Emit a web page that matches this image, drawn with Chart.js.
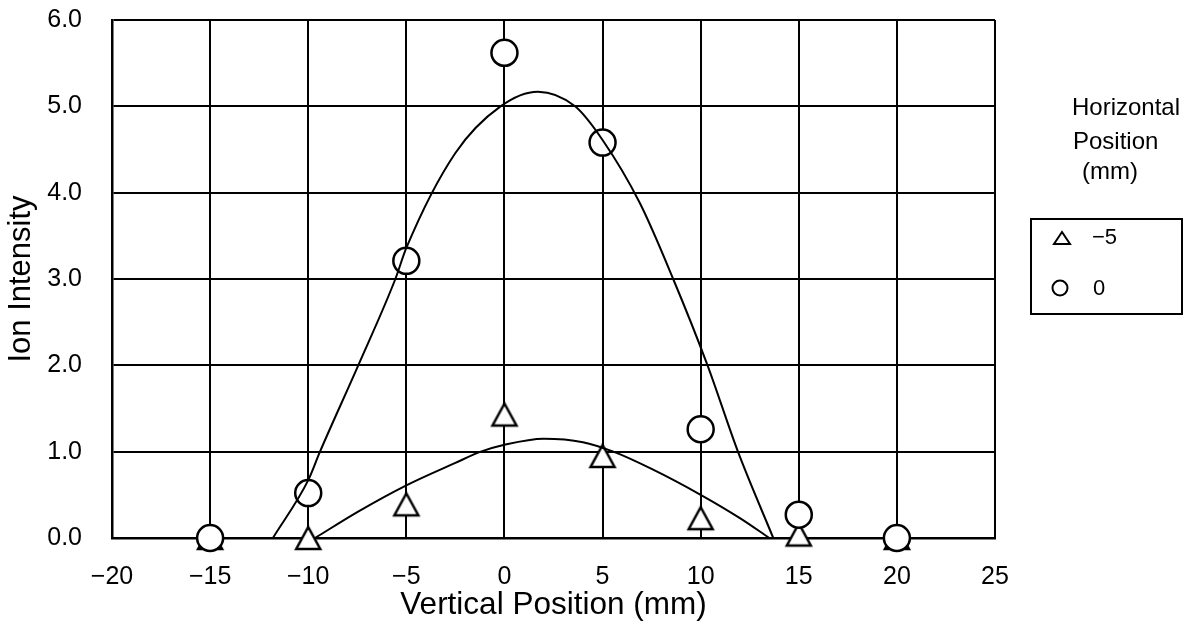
<!DOCTYPE html>
<html>
<head>
<meta charset="utf-8">
<title>Ion Intensity vs Vertical Position</title>
<script src="https://cdn.jsdelivr.net/npm/chart.js@4.4.1/dist/chart.umd.min.js"></script>
<style>
  html, body { margin: 0; padding: 0; background: #fff; }
  #wrap { width: 1200px; height: 634px; }
</style>
</head>
<body>
<div id="wrap"><canvas id="chart" width="1200" height="634"></canvas></div>
<script>
// ── Data ───────────────────────────────────────────────────────────────────

const POSITIONS    = [-15, -10, -5, 0, 5, 10, 15, 20];
const ION_H_MINUS5 = [0, 0, 0.39, 1.43, 0.95, 0.23, 0.04, 0];
const ION_H_0      = [0, 0.52, 3.21, 5.62, 4.58, 1.26, 0.27, 0];

// fitted curves, sampled as x/y pairs
const FIT_H_0_X = [-11.8, -10, -9.4, -7.45, -5.56, -5, -2.5, -0.2, 1.7, 3.6, 5, 6.9, 8.6, 10.35, 11.9, 13.7];
const FIT_H_0_Y = [0, 0.67, 1.0, 2.0, 3.0, 3.36, 4.46, 5.0, 5.17, 5.0, 4.61, 3.88, 3.0, 2.0, 1.0, 0];
const FIT_H_MINUS5_X = [-9.65, -7.5, -5, -2.5, -1.2, 0, 2, 4, 5.55, 7.5, 10, 12, 13.5];
const FIT_H_MINUS5_Y = [0, 0.30, 0.61, 0.87, 1.0, 1.08, 1.15, 1.11, 1.0, 0.80, 0.50, 0.23, 0];

const X_TICKS = [-20, -15, -10, -5, 0, 5, 10, 15, 20, 25];
const Y_TICKS = [0, 1, 2, 3, 4, 5, 6];

const LEGEND_TITLE  = ['Horizontal', 'Position', '(mm)'];
const LEGEND_LABELS = ['\u22125', '0'];

// ── Helpers ────────────────────────────────────────────────────────────────

const FONT = '"Liberation Sans", Arial, sans-serif';
const pairs = (xs, ys) => xs.map((x, i) => ({ x, y: ys[i] }));
const minus = s => String(s).replace('-', '\u2212');

// open triangle marker, centred on its bounding box
const makeTriangle = (w, h, lw) => {
  const c = document.createElement('canvas');
  c.width = Math.ceil(w + 10);
  c.height = Math.ceil(h + 10);
  const g = c.getContext('2d');
  const cx = c.width / 2, cy = c.height / 2;
  g.beginPath();
  g.moveTo(cx, cy - h / 2);
  g.lineTo(cx + w / 2, cy + h / 2);
  g.lineTo(cx - w / 2, cy + h / 2);
  g.closePath();
  g.fillStyle = '#fff';
  g.fill();
  g.lineWidth = lw;
  g.strokeStyle = '#000';
  g.stroke();
  return c;
};

const TRI_BIG   = makeTriangle(24, 22, 2.5);
const TRI_SMALL = makeTriangle(16, 12, 2);

// ── Legend (drawn beside the plot) ─────────────────────────────────────────

const sideLegend = {
  id: 'sideLegend',
  afterDraw(chart) {
    const { ctx } = chart;
    ctx.save();
    ctx.fillStyle = '#000';
    ctx.textBaseline = 'middle';
    ctx.textAlign = 'left';

    ctx.font = `24px ${FONT}`;
    const titleX = [1072, 1073, 1082];
    const titleY = [108, 142, 172];
    LEGEND_TITLE.forEach((t, i) => ctx.fillText(t, titleX[i], titleY[i]));

    ctx.lineWidth = 2;
    ctx.strokeStyle = '#000';
    ctx.strokeRect(1031, 219, 151, 95);

    ctx.drawImage(TRI_SMALL, 1062 - TRI_SMALL.width / 2, 238 - TRI_SMALL.height / 2);
    ctx.beginPath();
    ctx.arc(1060, 288, 7.5, 0, Math.PI * 2);
    ctx.stroke();

    ctx.font = `22px ${FONT}`;
    ctx.fillText(LEGEND_LABELS[0], 1092, 238);
    ctx.fillText(LEGEND_LABELS[1], 1093, 289);
    ctx.restore();
  }
};

// ── Chart ──────────────────────────────────────────────────────────────────

Chart.defaults.font.family = FONT;
Chart.defaults.color = '#000';

// invisible tick marks give the label gap without padding the plot area
const grid = { color: '#000', lineWidth: 2, drawTicks: true, tickColor: 'rgba(0,0,0,0)' };
const border = { color: '#000', width: 2.5 };

new Chart(document.getElementById('chart').getContext('2d'), {
  type: 'scatter',
  data: {
    datasets: [
      {
        label: 'fit 0',
        data: pairs(FIT_H_0_X, FIT_H_0_Y),
        showLine: true,
        borderColor: '#000',
        borderWidth: 2,
        pointRadius: 0,
        cubicInterpolationMode: 'monotone'
      },
      {
        label: 'fit -5',
        data: pairs(FIT_H_MINUS5_X, FIT_H_MINUS5_Y),
        showLine: true,
        borderColor: '#000',
        borderWidth: 2,
        pointRadius: 0,
        cubicInterpolationMode: 'monotone'
      },
      {
        label: LEGEND_LABELS[1],
        data: pairs(POSITIONS, ION_H_0),
        pointStyle: 'circle',
        pointRadius: 13,
        borderWidth: 2.5,
        borderColor: '#000',
        backgroundColor: '#fff',
        clip: false
      },
      {
        label: LEGEND_LABELS[0],
        data: pairs(POSITIONS, ION_H_MINUS5),
        pointStyle: TRI_BIG,
        pointRadius: 13,
        borderColor: '#000',
        backgroundColor: '#fff',
        clip: false
      }
    ]
  },
  options: {
    responsive: false,
    animation: false,
    layout: { padding: { top: 20, right: 205, left: 0, bottom: 0 } },
    plugins: {
      legend: { display: false },
      tooltip: { enabled: false }
    },
    scales: {
      x: {
        type: 'linear',
        min: -20,
        max: 25,
        afterBuildTicks: s => { s.ticks = X_TICKS.map(v => ({ value: v })); },
        afterFit: s => { s.height = 96; },
        grid: { ...grid, tickLength: 24 },
        border,
        ticks: { font: { size: 25 }, padding: 0, callback: v => minus(v) },
        title: {
          display: true,
          text: 'Vertical Position (mm)',
          font: { size: 31.5 },
          padding: { top: 0, bottom: 10 }
        }
      },
      y: {
        type: 'linear',
        min: 0,
        max: 6,
        afterBuildTicks: s => { s.ticks = Y_TICKS.map(v => ({ value: v })); },
        afterFit: s => { s.width = 112; },
        grid: { ...grid, tickLength: 30 },
        border,
        ticks: { font: { size: 25 }, padding: 0, callback: v => v.toFixed(1) },
        title: {
          display: true,
          text: 'Ion Intensity',
          font: { size: 31 },
          padding: { top: 3, bottom: 0 }
        }
      }
    }
  },
  plugins: [sideLegend]
});
</script>
</body>
</html>
